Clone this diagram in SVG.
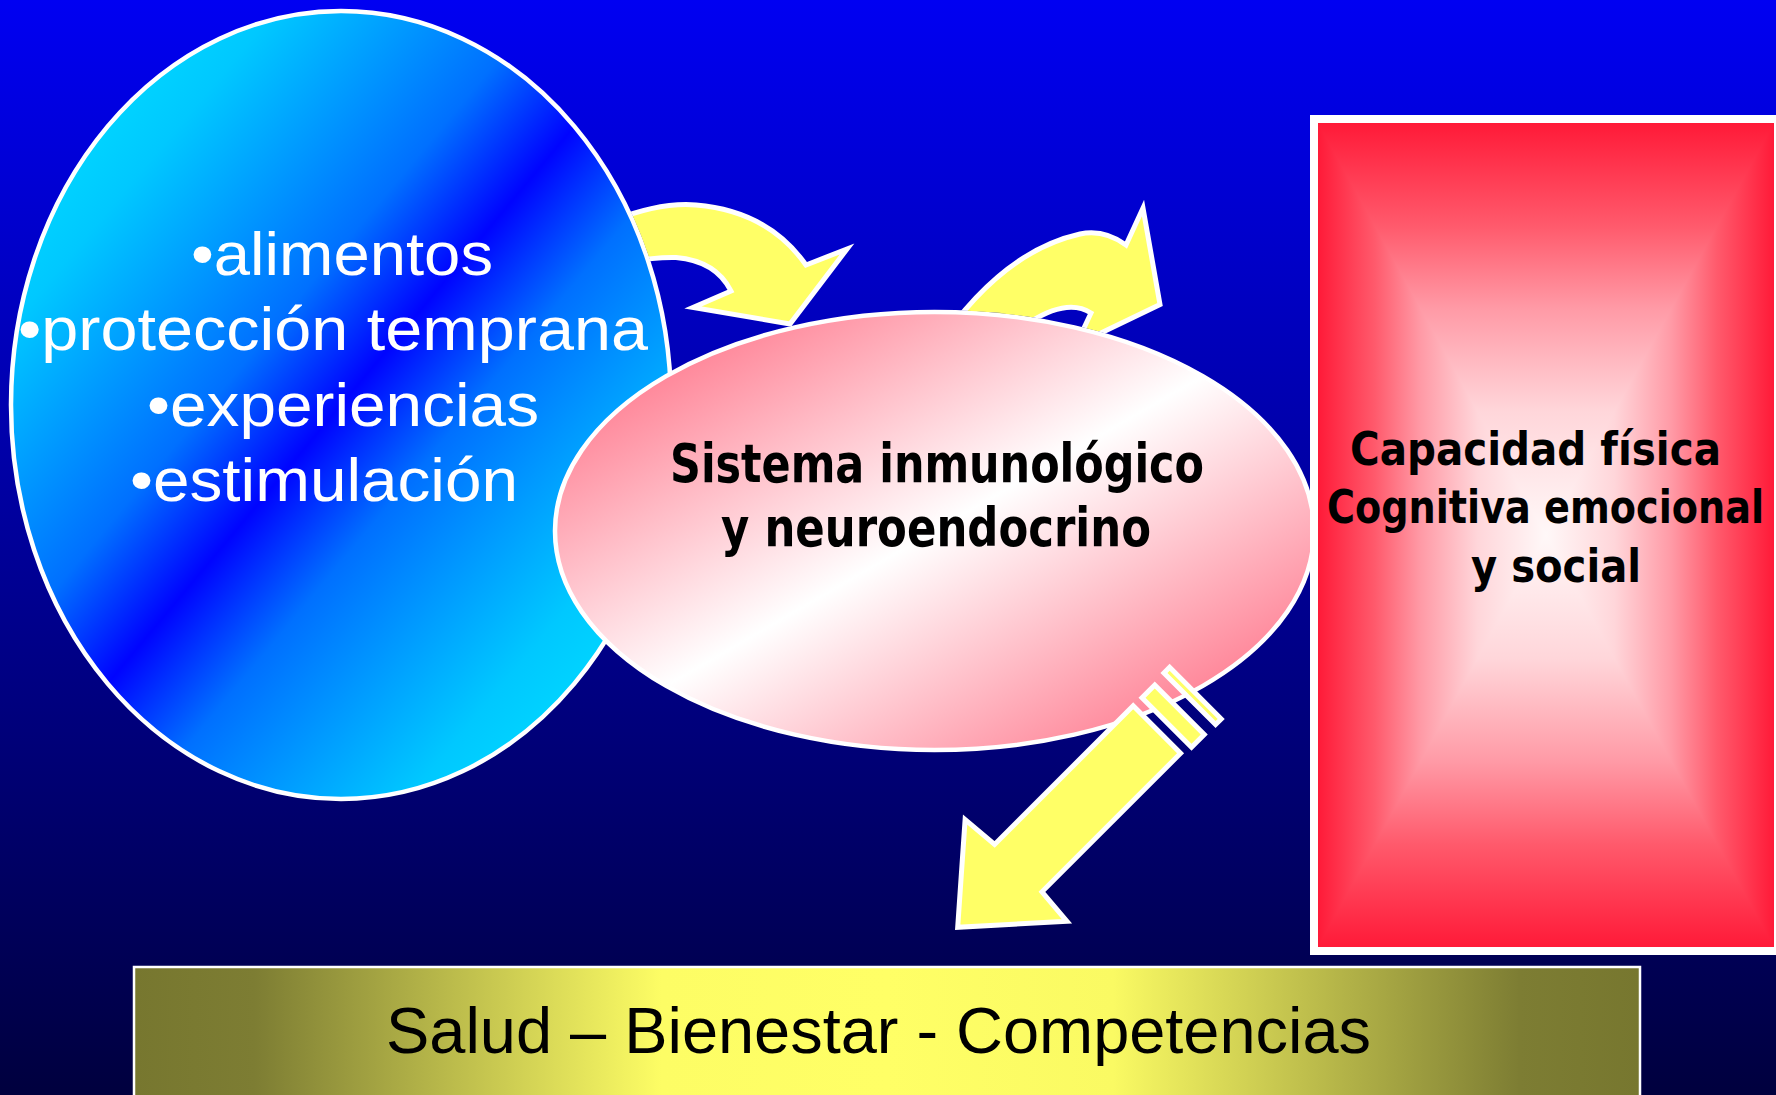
<svg xmlns="http://www.w3.org/2000/svg" width="1776" height="1095" viewBox="0 0 1776 1095">
  <defs>
    <linearGradient id="bg" x1="0" y1="0" x2="0" y2="1">
      <stop offset="0" stop-color="#0000f2"/>
      <stop offset="1" stop-color="#00003e"/>
    </linearGradient>
    <linearGradient id="blueFill" x1="0" y1="0" x2="1" y2="1">
      <stop offset="0" stop-color="#00f0ff"/>
      <stop offset="0.2" stop-color="#00c8ff"/>
      <stop offset="0.4" stop-color="#0070ff"/>
      <stop offset="0.5" stop-color="#0004ff"/>
      <stop offset="0.6" stop-color="#0070ff"/>
      <stop offset="0.8" stop-color="#00c8ff"/>
      <stop offset="1" stop-color="#00f0ff"/>
    </linearGradient>
    <linearGradient id="pinkFill" x1="0" y1="0" x2="1" y2="1">
      <stop offset="0" stop-color="#ff6f88"/>
      <stop offset="0.15" stop-color="#ff8a9c"/>
      <stop offset="0.5" stop-color="#ffffff"/>
      <stop offset="0.85" stop-color="#ff8a9c"/>
      <stop offset="1" stop-color="#ff6f88"/>
    </linearGradient>
    <linearGradient id="redV" gradientUnits="userSpaceOnUse" x1="0" y1="123" x2="0" y2="947">
      <stop offset="0" stop-color="#ff1a38"/>
      <stop offset="0.125" stop-color="#ff5a6c"/>
      <stop offset="0.225" stop-color="#ff9aa6"/>
      <stop offset="0.35" stop-color="#ffd6da"/>
      <stop offset="0.5" stop-color="#fff8f8"/>
      <stop offset="0.65" stop-color="#ffd6da"/>
      <stop offset="0.775" stop-color="#ff9aa6"/>
      <stop offset="0.875" stop-color="#ff5a6c"/>
      <stop offset="1" stop-color="#ff1a38"/>
    </linearGradient>
    <linearGradient id="redH" gradientUnits="userSpaceOnUse" x1="1318" y1="0" x2="1774" y2="0">
      <stop offset="0" stop-color="#ff1a38"/>
      <stop offset="0.125" stop-color="#ff5a6c"/>
      <stop offset="0.225" stop-color="#ff9aa6"/>
      <stop offset="0.35" stop-color="#ffd6da"/>
      <stop offset="0.5" stop-color="#fff8f8"/>
      <stop offset="0.65" stop-color="#ffd6da"/>
      <stop offset="0.775" stop-color="#ff9aa6"/>
      <stop offset="0.875" stop-color="#ff5a6c"/>
      <stop offset="1" stop-color="#ff1a38"/>
    </linearGradient>
    <linearGradient id="olive" x1="0" y1="0" x2="1" y2="0">
      <stop offset="0" stop-color="#77772f"/>
      <stop offset="0.08" stop-color="#7d7d33"/>
      <stop offset="0.35" stop-color="#fdfd65"/>
      <stop offset="0.5" stop-color="#ffff66"/>
      <stop offset="0.65" stop-color="#fafa63"/>
      <stop offset="0.92" stop-color="#7d7d33"/>
      <stop offset="1" stop-color="#77772f"/>
    </linearGradient>
    <mask id="underNodes" maskUnits="userSpaceOnUse" x="0" y="0" width="1776" height="1095">
      <rect x="0" y="0" width="1776" height="1095" fill="#fff"/>
      <ellipse cx="341" cy="405" rx="332" ry="396" fill="#000"/>
      <ellipse cx="934.5" cy="531" rx="381.5" ry="221" fill="#000"/>
    </mask>
    <style>
      .arrow { fill: #ffff66; stroke: #ffffff; stroke-width: 5; stroke-linejoin: miter; stroke-miterlimit: 10; }
      .outline { stroke: #ffffff; stroke-width: 4.5; }
      .bullets { font-family: "Liberation Sans Narrow", "Liberation Sans", Arial, sans-serif; font-size: 62px; fill: #ffffff; }
      .bold { font-family: "DejaVu Sans Condensed", "DejaVu Sans", "Liberation Sans", sans-serif; font-weight: bold; fill: #000000; }
      .salud { font-family: "Liberation Sans Narrow", "Liberation Sans", Arial, sans-serif; font-size: 64px; fill: #000000; }
    </style>
  </defs>

  <rect id="background" x="0" y="0" width="1776" height="1095" fill="url(#bg)"/>

  <g id="node-factores">
    <ellipse cx="341" cy="405" rx="330" ry="394" fill="url(#blueFill)" class="outline"/>
    <text class="bullets" x="191" y="275" textLength="302" lengthAdjust="spacingAndGlyphs">•alimentos</text>
    <text class="bullets" x="18" y="350" textLength="630" lengthAdjust="spacingAndGlyphs">•protección temprana</text>
    <text class="bullets" x="147" y="426" textLength="392" lengthAdjust="spacingAndGlyphs">•experiencias</text>
    <text class="bullets" x="130" y="501" textLength="388" lengthAdjust="spacingAndGlyphs">•estimulación</text>
  </g>

  <g id="node-sistema">
    <ellipse cx="934.5" cy="531" rx="379.5" ry="219" fill="url(#pinkFill)" class="outline"/>
    <text class="bold" font-size="53" x="670" y="482" textLength="534" lengthAdjust="spacingAndGlyphs">Sistema inmunológico</text>
    <text class="bold" font-size="53" x="721" y="546" textLength="430" lengthAdjust="spacingAndGlyphs">y neuroendocrino</text>
  </g>

  <g id="node-capacidad">
    <rect x="1310" y="115" width="472" height="840" fill="#ffffff"/>
    <rect x="1318" y="123" width="456" height="824" fill="url(#redV)"/>
    <polygon points="1318,123 1546,535 1318,947" fill="url(#redH)"/>
    <polygon points="1774,123 1546,535 1774,947" fill="url(#redH)"/>
    <text class="bold" font-size="46" x="1350" y="465" textLength="371" lengthAdjust="spacingAndGlyphs">Capacidad física</text>
    <text class="bold" font-size="46" x="1327" y="523" textLength="437" lengthAdjust="spacingAndGlyphs">Cognitiva emocional</text>
    <text class="bold" font-size="46" x="1471" y="582" textLength="170" lengthAdjust="spacingAndGlyphs">y social</text>
  </g>

  <g id="node-salud">
    <rect x="134" y="967" width="1506" height="140" fill="url(#olive)" stroke="#ffffff" stroke-width="2.5"/>
    <text class="salud" x="386" y="1053" textLength="985" lengthAdjust="spacingAndGlyphs">Salud – Bienestar - Competencias</text>
  </g>

  <g id="connectors">
    <g mask="url(#underNodes)">
      <path id="arrow-factores-sistema" class="arrow" d="M 612 221 Q 660 202 696 205 Q 768 211 806 265 L 847 249 L 790 324 L 693 307.5 L 731 291 Q 716 261 676 257.5 Q 655 257 630 262 Z"/>
      <path id="arrow-sistema-capacidad" class="arrow" d="M 935 350 Q 1000 252 1080 234 Q 1104 229 1126 245 L 1143 208 L 1160 304.5 L 1076 345 L 1091 313 Q 1068 298 1030 322 L 1005 350 Z"/>
    </g>
    <g id="arrow-sistema-salud" transform="translate(955,930) rotate(-45)">
      <path class="arrow" d="M 3.8 0 L 85.3 -71 L 88.5 -32.5 L 284.5 -32.5 L 284.5 34.5 L 88.5 34.5 L 85.3 73 Z"/>
      <rect class="arrow" x="296.5" y="-32" width="18" height="70"/>
      <rect class="arrow" x="329.5" y="-34" width="8" height="73"/>
    </g>
  </g>
</svg>
